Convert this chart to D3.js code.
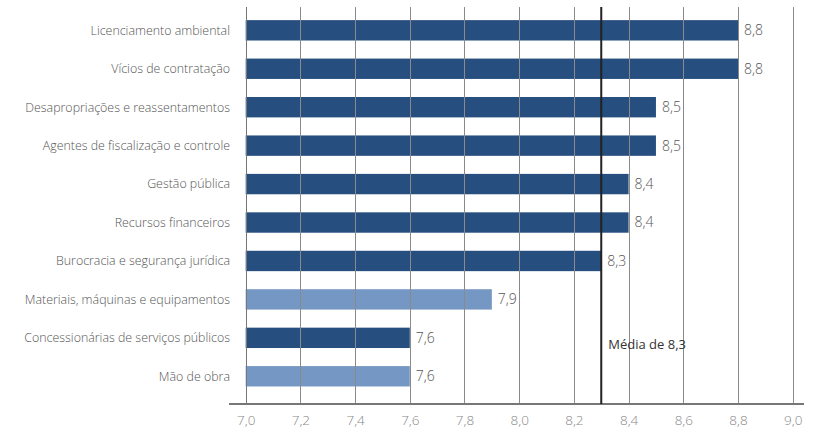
<!DOCTYPE html>
<html><head><meta charset="utf-8">
<script src="https://cdn.jsdelivr.net/npm/d3@7"></script>
<style>
body{margin:0;background:#fff;}
svg{display:block;font-family:"Open Sans",sans-serif;}
</style></head>
<body><svg id="c" width="814" height="446"></svg>
<script>
const categories = ["Licenciamento ambiental","Vícios de contratação","Desapropriações e reassentamentos","Agentes de fiscalização e controle","Gestão pública","Recursos financeiros","Burocracia e segurança jurídica","Materiais, máquinas e equipamentos","Concessionárias de serviços públicos","Mão de obra"];
const values = [8.8,8.8,8.5,8.5,8.4,8.4,8.3,7.9,7.6,7.6];
const highlight = [false,false,false,false,false,false,false,true,false,true];
const ticks = [7.0,7.2,7.4,7.6,7.8,8.0,8.2,8.4,8.6,8.8,9.0];
const mean = 8.3;
const meanLabel = "Média de 8,3";

const svg = d3.select("#c");
const x = d3.scaleLinear().domain([7,9]).range([245.7,792.7]);
const y = d3.scaleBand().domain(categories).range([11.1,395.5]).paddingInner(0.47).paddingOuter(0.235);
const fmt = v => d3.format(".1f")(v).replace(".", ",");
const yTop = 7, yBottom = 404;

// bars
svg.append("g").selectAll("rect").data(categories).join("rect")
  .attr("x", x(7)).attr("y", d => y(d))
  .attr("width", (d,i) => x(values[i]) - x(7))
  .attr("height", y.bandwidth())
  .attr("fill", (d,i) => highlight[i] ? "#7597c3" : "#264e7f");

// grid
svg.append("g").selectAll("line").data(ticks.slice(1)).join("line")
  .attr("x1", d => Math.round(x(d))+0.5).attr("x2", d => Math.round(x(d))+0.5)
  .attr("y1", yTop).attr("y2", yBottom)
  .attr("stroke", "#8a8a8a").attr("stroke-width", 1);

// left axis line
svg.append("line").attr("x1", Math.round(x(7))+0.5).attr("x2", Math.round(x(7))+0.5)
  .attr("y1", yTop).attr("y2", yBottom).attr("stroke", "#777").attr("stroke-width", 1);

// bottom axis
const xAxis = d3.axisBottom(x).tickValues(ticks).tickFormat(fmt).tickSize(0).tickPadding(11);
const ag = svg.append("g").attr("transform", `translate(0,${yBottom})`).call(xAxis);
ag.select(".domain").remove();
ag.append("line").attr("x1", 229).attr("x2", 804).attr("y1", 0).attr("y2", 0)
  .attr("stroke", "#777").attr("stroke-width", 2);
ag.selectAll("text").attr("fill", "#888").attr("font-size", 13.5).attr("font-family", "Open Sans, sans-serif").attr("font-weight", 300);

// mean line
svg.append("line").attr("x1", x(mean)).attr("x2", x(mean)).attr("y1", yTop).attr("y2", yBottom)
  .attr("stroke", "#222").attr("stroke-width", 2);
svg.append("text").attr("x", x(mean) + 7).attr("y", 344).attr("dy", "0.35em")
  .attr("fill", "#333").attr("font-size", 13).text(meanLabel);

// value labels
svg.append("g").selectAll("text").data(categories).join("text")
  .attr("x", (d,i) => x(values[i]) + 6)
  .attr("y", d => y(d) + y.bandwidth()/2).attr("dy", "0.35em")
  .attr("fill", "#555").attr("font-size", 14).attr("font-weight", 300)
  .text((d,i) => fmt(values[i]));

// category labels
svg.append("g").selectAll("text").data(categories).join("text")
  .attr("x", 230).attr("text-anchor", "end")
  .attr("y", d => y(d) + y.bandwidth()/2).attr("dy", "0.35em")
  .attr("fill", "#555").attr("font-size", 12.4).attr("font-weight", 300)
  .text(d => d);
</script></body></html>
